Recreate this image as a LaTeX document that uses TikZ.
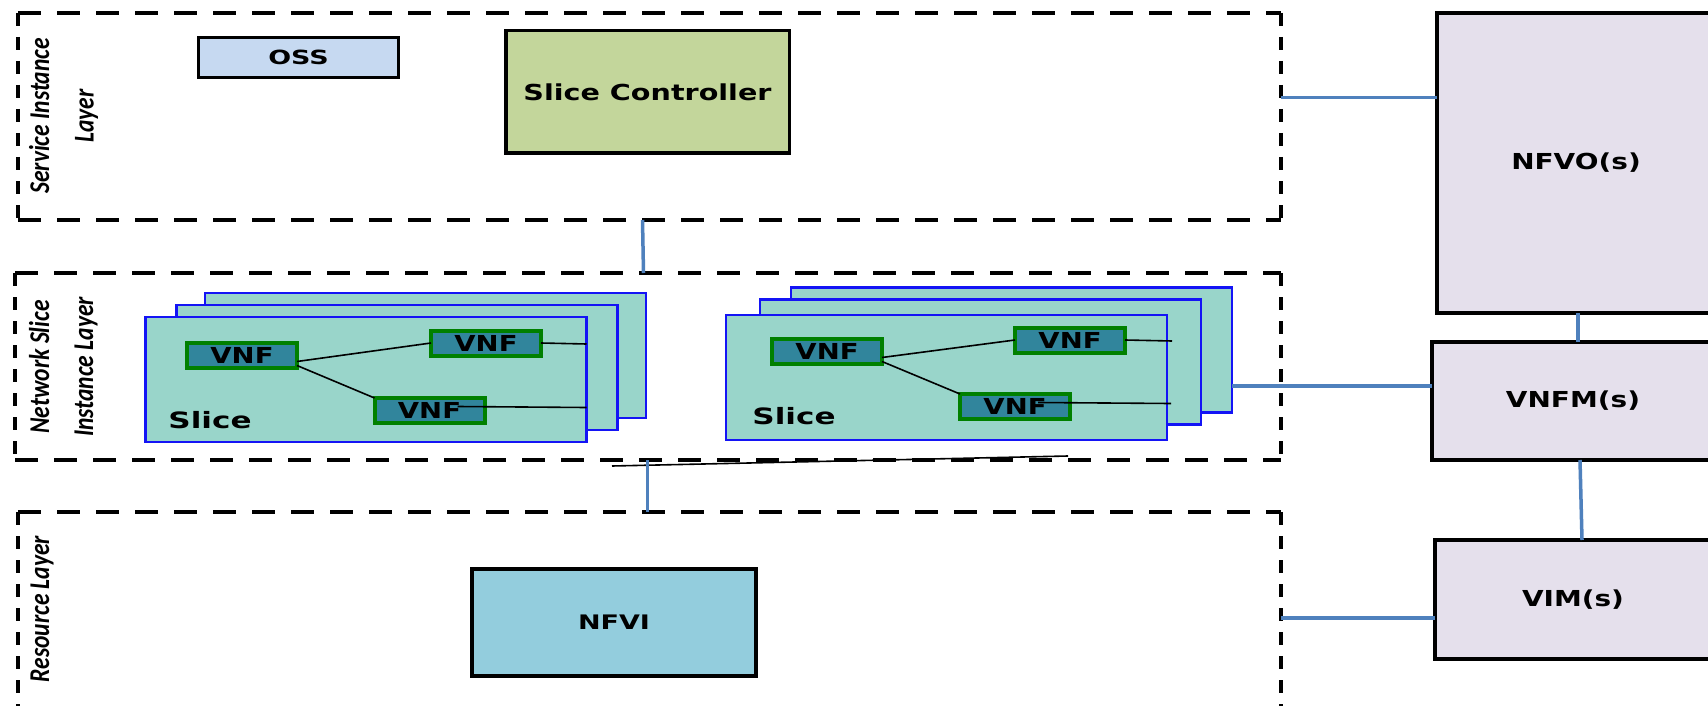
\documentclass[tikz,border=0pt]{standalone}
\usepackage{fontspec}
\usepackage{graphicx}
\newfontfamily\dvs{DejaVu Sans}
\newfontfamily\carl{Carlito}
\newcommand\wt[2]{\scalebox{#1}[1]{#2}}
\newcommand\tl[1]{\scalebox{1}[1.22]{#1}}
\definecolor{ossfill}{RGB}{198,217,241}
\definecolor{scfill}{RGB}{195,214,155}
\definecolor{nfvifill}{RGB}{147,205,221}
\definecolor{mgmtfill}{RGB}{229,224,236}
\definecolor{slicefill}{RGB}{153,213,202}
\definecolor{sliceedge}{RGB}{20,20,245}
\definecolor{vnffill}{RGB}{49,133,156}
\definecolor{vnfedge}{RGB}{0,128,0}
\definecolor{linkblue}{RGB}{79,129,189}
\begin{document}
\begin{tikzpicture}[x=1pt,y=-1pt,
  layerbox/.style={inner sep=0pt, outer sep=0pt, draw=none},
  hdash/.style={line width=4pt, dash pattern=on 23pt off 16pt},
  vdash/.style={line width=4pt, dash pattern=on 13pt off 11pt},
  blk/.style={draw=black, inner sep=0pt, outer sep=0pt},
  slicebox/.style={draw=sliceedge, fill=slicefill, line width=2.2pt, inner sep=0pt, outer sep=0pt, minimum width=441pt, minimum height=125pt},
  vnfbox/.style={draw=vnfedge, fill=vnffill, line width=4pt, inner sep=0pt, outer sep=0pt, minimum width=110pt, minimum height=25pt, font=\dvs\bfseries\fontsize{22}{24}\selectfont},
  slicelbl/.style={inner sep=0pt, anchor=base, font=\dvs\bfseries\fontsize{22.5}{24}\selectfont},
  mgmt/.style={blk, fill=mgmtfill, line width=4pt, font=\dvs\bfseries\fontsize{22}{24}\selectfont},
  lyr/.style={inner sep=0pt, anchor=base, rotate=90, font=\carl\bfseries\itshape\fontsize{23.5}{28}\selectfont},
  blueln/.style={draw=linkblue, line width=3.5pt},
  thin/.style={draw=black, line width=1.6pt}
]
\useasboundingbox (0,0) rectangle (1708,706);
\clip (0,0) rectangle (1708,706);
\fill[white] (0,0) rectangle (1708,706);

% layer frames
\node[layerbox, minimum width=1263pt, minimum height=207pt] (svc) at (649.5,116.5) {};
\node[layerbox, minimum width=1266pt, minimum height=187pt] (nsl) at (648,366.5) {};
\node[layerbox, minimum width=1263pt, minimum height=228pt] (res) at (649.5,626) {};
\foreach \b in {svc,nsl,res}{
  \draw[hdash] (\b.north west) -- (\b.north east);
  \draw[hdash] (\b.south west) -- (\b.south east);
  \draw[vdash] (\b.north west) -- (\b.south west);
  \draw[vdash] (\b.north east) -- (\b.south east);
}

% layer labels
\node[lyr] (l1a) at (49,116) {\tl{Service Instance}};
\node[lyr] (l1b) at (93.5,116) {\tl{Layer}};
\node[lyr] (l2a) at (49,367) {\tl{Network Slice}};
\node[lyr] (l2b) at (93,367) {\tl{Instance Layer}};
\node[lyr] (l3a) at (49,609) {\tl{Resource Layer}};

% service instance layer
\node[blk, fill=ossfill, line width=3.2pt, minimum width=200pt, minimum height=40pt,
  font=\dvs\bfseries\fontsize{19.5}{22}\selectfont] (oss) at (298.5,57.5) {\wt{1.38}{OSS}};
\node[blk, fill=scfill, line width=3.5pt, minimum width=283.5pt, minimum height=122.5pt,
  font=\dvs\bfseries\fontsize{22}{24}\selectfont] (sc) at (647.5,92) {\wt{1.3}{Slice Controller}};

% resource layer
\node[blk, fill=nfvifill, line width=4pt, minimum width=284pt, minimum height=107pt,
  font=\dvs\bfseries\fontsize{20}{22}\selectfont] (nfvi) at (614,622.5) {\wt{1.35}{NFVI}};

% left slice stack
\node[slicebox] (lf3) at (425.5,355.5) {};
\node[slicebox] (lf2) at (397,367.5) {};
\node[slicebox] (lf1) at (366,379.5) {};
\node[slicelbl] (ls) at (210,428) {\wt{1.38}{Slice}};
\node[vnfbox] (v1) at (242,355.5) {\wt{1.25}{VNF}};
\node[vnfbox] (v2) at (486,343) {\wt{1.25}{VNF}};
\node[vnfbox] (v3) at (429.5,410.5) {\wt{1.25}{VNF}};
\draw[thin] ([yshift=-6pt]v1.east) -- (v2.west);
\draw[thin] ([yshift=-10pt]v1.east) -- (v3.north west);
\draw[thin] (v2.east) -- ([yshift=-1pt]v2.east -| lf1.east);
\coordinate (v3s) at ([xshift=28pt,yshift=4pt]v3.center);
\draw[thin] (v3s) -- ([yshift=-1pt]v3s -| lf1.east);

% right slice stack
\node[slicebox] (rf3) at (1011.5,350) {};
\node[slicebox] (rf2) at (980.5,362) {};
\node[slicebox] (rf1) at (946.5,377.5) {};
\node[slicelbl] (rs) at (794,424) {\wt{1.38}{Slice}};
\node[vnfbox] (w1) at (827,351.5) {\wt{1.25}{VNF}};
\node[vnfbox] (w2) at (1070,340) {\wt{1.25}{VNF}};
\node[vnfbox] (w3) at (1015,406.5) {\wt{1.25}{VNF}};
\draw[thin] ([yshift=-6pt]w1.east) -- (w2.west);
\draw[thin] ([yshift=-10pt]w1.east) -- (w3.north west);
\draw[thin] (w2.east) -- ([xshift=5pt,yshift=-1pt]w2.east -| rf1.east);
\coordinate (w3s) at ([xshift=23pt,yshift=4pt]w3.center);
\draw[thin] (w3s) -- ([xshift=4pt,yshift=-1pt]w3s -| rf1.east);

% slanted thin line below network slice layer
\coordinate (sl1) at (612,466);
\coordinate (sl2) at (1068,456);
\draw[thin] (sl1) -- (sl2);

% management boxes
\node[mgmt, minimum width=278pt, minimum height=300pt] (nfvo) at (1576,163) {\wt{1.27}{NFVO(s)}};
\node[mgmt, minimum width=282pt, minimum height=118pt] (vnfm) at (1573,401) {\wt{1.27}{VNFM(s)}};
\node[mgmt, minimum width=276pt, minimum height=119pt] (vim) at (1573,599.5) {\wt{1.27}{VIM(s)}};

% blue links
\draw[blueln] ([xshift=-5pt]sc.south |- svc.south) -- ([xshift=-4pt]sc.south |- nsl.north);
\draw[blueln] (sc.south |- nsl.south) -- (sc.south |- res.north);
\coordinate (nfvol) at ([yshift=19pt]svc.east);
\draw[blueln] (nfvol) -- (nfvol -| nfvo.west);
\coordinate (vnfml) at ([yshift=15pt]vnfm.west);
\draw[blueln] (vnfml -| rf3.east) -- (vnfml);
\coordinate (viml) at ([yshift=-18.5pt]vim.west);
\draw[blueln] (viml -| res.east) -- (viml);
\draw[blueln] ([xshift=2pt]nfvo.south) -- ([xshift=5pt]vnfm.north);
\draw[blueln] ([xshift=7pt]vnfm.south) -- ([xshift=9pt]vim.north);
\end{tikzpicture}
\end{document}
